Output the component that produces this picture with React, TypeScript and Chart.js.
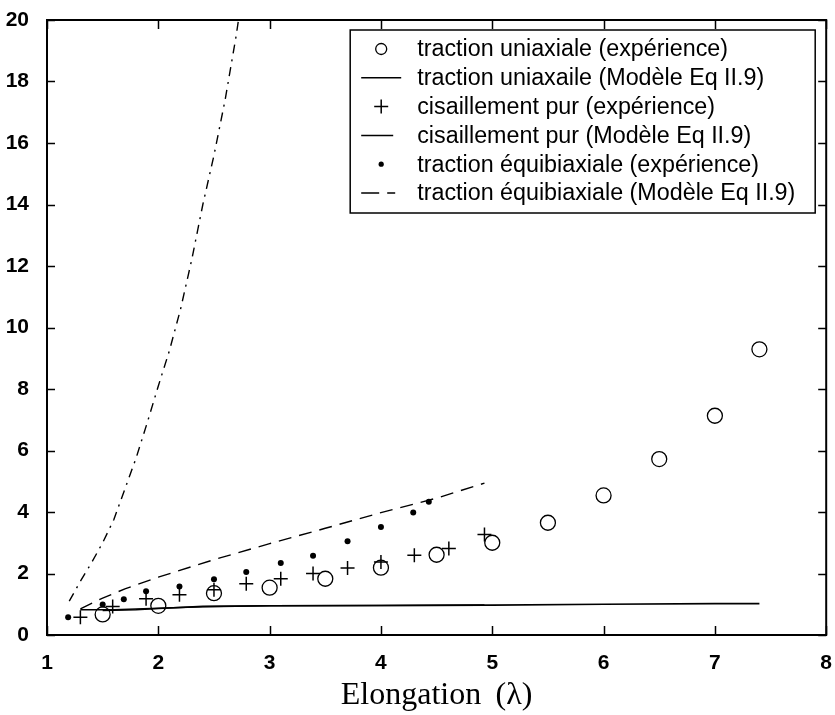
import React, { useEffect, useRef } from 'react';
import { Chart, registerables } from 'chart.js';

Chart.register(...registerables);

// ---- data ----
const uniaxExpX = [1.5, 2, 2.5, 3, 3.5, 4, 4.5, 5, 5.5, 6, 6.5, 7, 7.4];
const uniaxExpY = [0.67, 0.95, 1.36, 1.54, 1.83, 2.19, 2.61, 3.0, 3.65, 4.54, 5.72, 7.13, 9.29];

const uniaxModelX = [1.5, 1.8, 2.0, 2.4, 3.0, 4.0, 5.0, 6.0, 7.0, 7.4];
const uniaxModelY = [0.8, 0.82, 0.86, 0.93, 0.95, 0.96, 0.97, 1.0, 1.02, 1.02];

const shearExpX = [1.3, 1.59, 1.89, 2.19, 2.5, 2.79, 3.1, 3.39, 3.7, 4.0, 4.3, 4.61, 4.93];
const shearExpY = [0.58, 0.93, 1.18, 1.31, 1.47, 1.67, 1.83, 2.0, 2.18, 2.37, 2.59, 2.81, 3.27];

const shearModelX = [1.3, 1.6, 2.0, 2.4, 3.0, 4.0, 4.93];
const shearModelY = [0.82, 0.82, 0.87, 0.92, 0.95, 0.96, 0.97];

const equiExpX = [1.19, 1.5, 1.69, 1.89, 2.19, 2.5, 2.79, 3.1, 3.39, 3.7, 4.0, 4.29, 4.43];
const equiExpY = [0.58, 0.99, 1.16, 1.42, 1.58, 1.81, 2.05, 2.34, 2.58, 3.05, 3.51, 3.98, 4.33];

const equiModelX = [1.3, 1.5, 1.7, 2.0, 2.5, 3.0, 3.5, 4.0, 4.5, 4.93];
const equiModelY = [0.85, 1.2, 1.5, 1.88, 2.45, 2.97, 3.47, 3.98, 4.45, 4.94];

const steepX = [1.2, 1.3, 1.4, 1.5, 1.6, 1.7, 1.8, 1.9, 2.0, 2.1, 2.2, 2.3, 2.4, 2.5, 2.6, 2.7, 2.72];
const steepY = [1.1, 1.75, 2.35, 3.0, 3.75, 4.75, 5.75, 6.9, 8.1, 9.25, 10.6, 12.2, 14.0, 15.6, 17.4, 19.5, 20.0];

const labelUniaxExp = 'traction uniaxiale (expérience)';
const labelUniaxModel = 'traction uniaxaile (Modèle Eq II.9)';
const labelShearExp = 'cisaillement pur (expérience)';
const labelShearModel = 'cisaillement pur (Modèle Eq II.9)';
const labelEquiExp = 'traction équibiaxiale (expérience)';
const labelEquiModel = 'traction équibiaxiale (Modèle Eq II.9)';

const xTitle = 'Elongation\u2009 (λ)';
const xMin = 1, xMax = 8, xStep = 1;
const yMin = 0, yMax = 20, yStep = 2;

const pts = (xs: number[], ys: number[]) => xs.map((x, i) => ({ x, y: ys[i] }));

const TICK_FONT = { family: 'Arial, "Liberation Sans", sans-serif', size: 21, weight: 'bold' as const };

const framePlugin = {
  id: 'matlabFrame',
  afterDraw(chart: any) {
    const { ctx, chartArea: a, scales } = chart;
    ctx.save();
    ctx.strokeStyle = '#000';
    ctx.lineWidth = 2;
    ctx.strokeRect(a.left, a.top, a.right - a.left, a.bottom - a.top);
    ctx.lineWidth = 1.5;
    ctx.beginPath();
    scales.x.ticks.forEach((t: any) => {
      const px = Math.round(scales.x.getPixelForValue(t.value)) + 0.5;
      ctx.moveTo(px, a.bottom); ctx.lineTo(px, a.bottom - 9);
      ctx.moveTo(px, a.top); ctx.lineTo(px, a.top + 9);
    });
    scales.y.ticks.forEach((t: any) => {
      const py = Math.round(scales.y.getPixelForValue(t.value)) + 0.5;
      ctx.moveTo(a.left, py); ctx.lineTo(a.left + 8, py);
      ctx.moveTo(a.right, py); ctx.lineTo(a.right - 8, py);
    });
    ctx.stroke();

    // legend box
    const items = chart.data.datasets.filter((d: any) => d.label);
    const boxW = 465, boxH = 183;
    const bx = a.right - 11 - boxW, by = a.top + 10;
    ctx.fillStyle = '#fff';
    ctx.fillRect(bx, by, boxW, boxH);
    ctx.lineWidth = 1.5;
    ctx.strokeStyle = '#000';
    ctx.strokeRect(bx, by, boxW, boxH);
    const rowH = 28.8;
    const symX = bx + 31;
    const textX = bx + 67;
    ctx.font = '23.3px Arial, "Liberation Sans", sans-serif';
    ctx.textBaseline = 'middle';
    ctx.textAlign = 'left';
    items.forEach((d: any, i: number) => {
      const y = by + 19 + i * rowH;
      ctx.save();
      ctx.strokeStyle = '#000';
      ctx.fillStyle = '#000';
      if (d.showLine) {
        ctx.lineWidth = 1.5;
        ctx.setLineDash(d.legendDash || []);
        ctx.beginPath();
        ctx.moveTo(bx + 11, y);
        ctx.lineTo(bx + 11 + (d.legendLen || 40), y);
        ctx.stroke();
      } else if (d.pointStyle === 'cross') {
        ctx.lineWidth = 1.5;
        ctx.beginPath();
        ctx.moveTo(symX - 7, y); ctx.lineTo(symX + 7, y);
        ctx.moveTo(symX, y - 7); ctx.lineTo(symX, y + 7);
        ctx.stroke();
      } else if (d.legendFilled) {
        ctx.beginPath();
        ctx.arc(symX, y, 2.6, 0, Math.PI * 2);
        ctx.fill();
      } else {
        ctx.lineWidth = 1.3;
        ctx.beginPath();
        ctx.arc(symX, y, 5.5, 0, Math.PI * 2);
        ctx.stroke();
      }
      ctx.restore();
      ctx.fillStyle = '#000';
      ctx.fillText(d.label, textX, y + 1);
    });
    ctx.restore();
  },
};

export default function App() {
  const ref = useRef<HTMLCanvasElement | null>(null);
  useEffect(() => {
    if (!ref.current) return;
    const chart = new Chart(ref.current, {
      type: 'scatter',
      data: {
        datasets: [
          {
            label: labelUniaxExp,
            data: pts(uniaxExpX, uniaxExpY),
            pointStyle: 'circle',
            pointRadius: 7.5,
            borderColor: '#000',
            backgroundColor: 'rgba(0,0,0,0)',
            borderWidth: 1.3,
            showLine: false,
          },
          {
            label: labelUniaxModel,
            data: pts(uniaxModelX, uniaxModelY),
            showLine: true,
            pointRadius: 0,
            borderColor: '#000',
            borderWidth: 1.6,
            legendLen: 40,
          } as any,
          {
            label: labelShearExp,
            data: pts(shearExpX, shearExpY),
            pointStyle: 'cross',
            pointRadius: 7,
            borderColor: '#000',
            borderWidth: 1.5,
            showLine: false,
          },
          {
            label: labelShearModel,
            data: pts(shearModelX, shearModelY),
            showLine: true,
            pointRadius: 0,
            borderColor: '#000',
            borderWidth: 1.6,
            legendLen: 32,
          } as any,
          {
            label: labelEquiExp,
            data: pts(equiExpX, equiExpY),
            pointStyle: 'circle',
            pointRadius: 3,
            borderColor: '#000',
            backgroundColor: '#000',
            borderWidth: 0,
            showLine: false,
            legendFilled: true,
          } as any,
          {
            label: labelEquiModel,
            data: pts(equiModelX, equiModelY),
            showLine: true,
            pointRadius: 0,
            borderColor: '#000',
            borderWidth: 1.4,
            borderDash: [13, 8],
            legendDash: [18, 8, 8, 100],
            legendLen: 34,
          } as any,
          {
            label: '',
            data: pts(steepX, steepY),
            showLine: true,
            pointRadius: 0,
            borderColor: '#000',
            borderWidth: 1.4,
            borderDash: [9, 6, 2, 6],
          },
        ],
      },
      options: {
        animation: false,
        responsive: false,
        devicePixelRatio: 1,
        layout: { padding: { top: 20, right: 7, left: 0, bottom: 0 } },
        plugins: { legend: { display: false }, tooltip: { enabled: false } },
        scales: {
          x: {
            type: 'linear',
            min: xMin,
            max: xMax,
            grid: { display: false },
            border: { display: false },
            ticks: { stepSize: xStep, color: '#000', font: TICK_FONT, padding: 8 },
            title: {
              display: true,
              text: xTitle,
              color: '#000',
              font: { family: '"Liberation Serif", "Times New Roman", serif', size: 32 },
              padding: { top: 0, bottom: 0 },
            },
            afterFit: (s: any) => { s.height = 80; s.paddingLeft = 0; s.paddingRight = 0; },
          },
          y: {
            type: 'linear',
            min: yMin,
            max: yMax,
            grid: { display: false },
            border: { display: false },
            ticks: { stepSize: yStep, color: '#000', font: TICK_FONT, padding: 10 },
            afterFit: (s: any) => { s.width = 47; s.paddingTop = 0; s.paddingBottom = 0; },
          },
        },
      },
      plugins: [framePlugin],
    });
    return () => chart.destroy();
  }, []);
  return (
    <div style={{ position: 'absolute', left: 0, top: 0, width: 835, height: 715, background: '#fff' }}>
      <canvas ref={ref} width={835} height={715} />
    </div>
  );
}
